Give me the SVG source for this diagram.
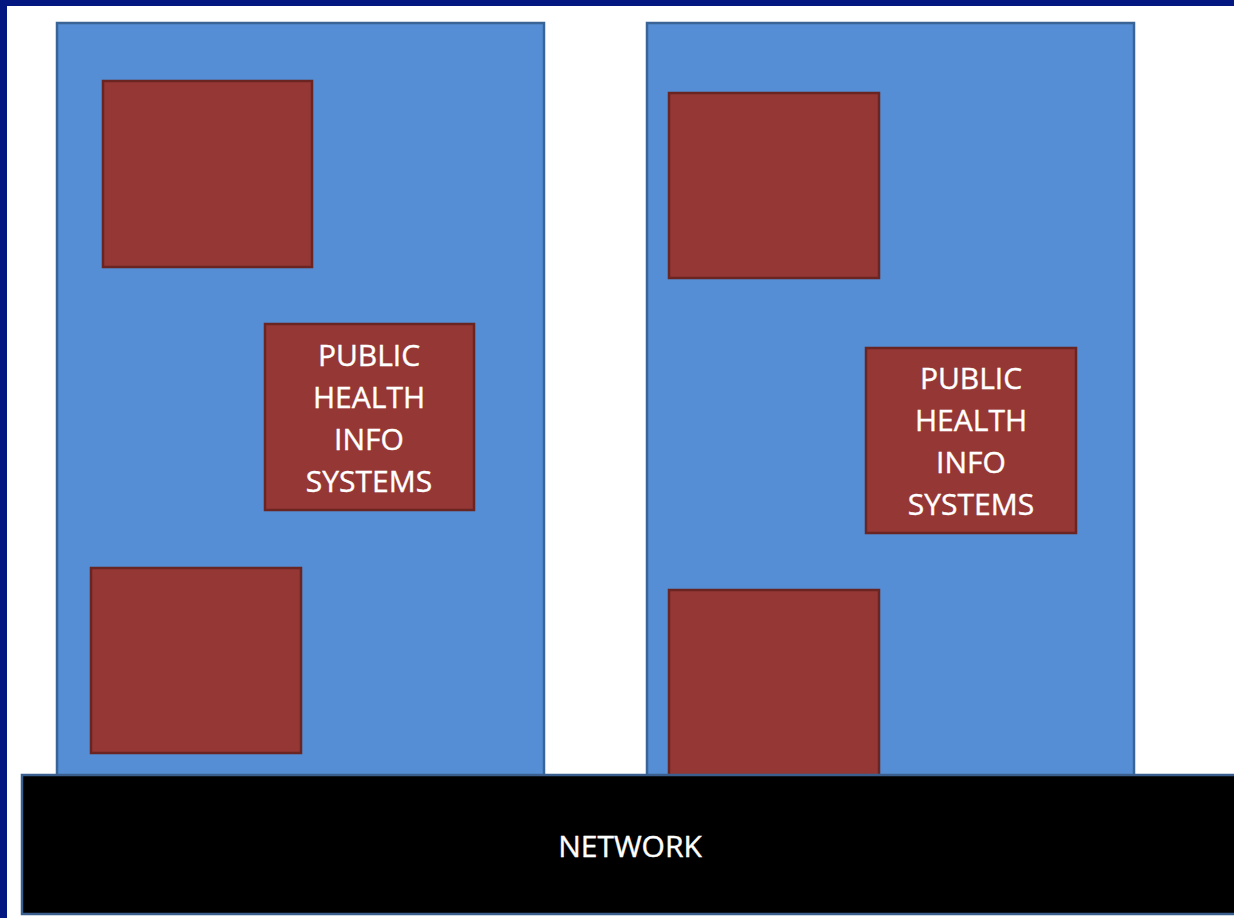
<svg xmlns="http://www.w3.org/2000/svg" width="1234" height="918" viewBox="0 0 1234 918">
<style>
.panel{fill:#558ed5;stroke:#3a6495;stroke-width:2.5}
.box{fill:#953735;stroke:#6a2422;stroke-width:2.5}
.lbl{font-family:"Open Sans","Liberation Sans",sans-serif;font-size:30px;fill:#ffffff;text-anchor:middle;stroke:#ffffff;stroke-width:0.4}
</style>
<rect x="0" y="0" width="1234" height="918" fill="#ffffff"/>
<rect x="0" y="0" width="1234" height="6" fill="#031780"/>
<rect x="0" y="0" width="7" height="918" fill="#031780"/>
<g id="panel-left"><rect class="panel" x="57" y="23" width="487" height="756"/></g>
<g id="panel-right"><rect class="panel" x="647" y="23" width="487" height="756"/></g>
<g id="box-l1"><rect class="box" x="103" y="81" width="209" height="186"/></g>
<g id="box-l2"><rect class="box" x="265" y="324" width="209" height="186"/>
<text class="lbl" x="369" y="366">PUBLIC</text><text class="lbl" x="369" y="408">HEALTH</text><text class="lbl" x="369" y="450">INFO</text><text class="lbl" x="369" y="492">SYSTEMS</text></g>
<g id="box-l3"><rect class="box" x="91" y="568" width="210" height="185"/></g>
<g id="box-r1"><rect class="box" x="669" y="93" width="210" height="185"/></g>
<g id="box-r2"><rect class="box" x="866" y="348" width="210" height="185"/>
<text class="lbl" x="971" y="389">PUBLIC</text><text class="lbl" x="971" y="431">HEALTH</text><text class="lbl" x="971" y="473">INFO</text><text class="lbl" x="971" y="515">SYSTEMS</text></g>
<g id="box-r3"><rect class="box" x="669" y="590" width="210" height="190"/></g>
<g id="network"><rect x="22" y="775" width="1220" height="139" fill="#000000" stroke="#3a5f8f" stroke-width="2.5"/>
<text class="lbl" x="630" y="857">NETWORK</text></g>
<g id="connectors"></g>
</svg>
